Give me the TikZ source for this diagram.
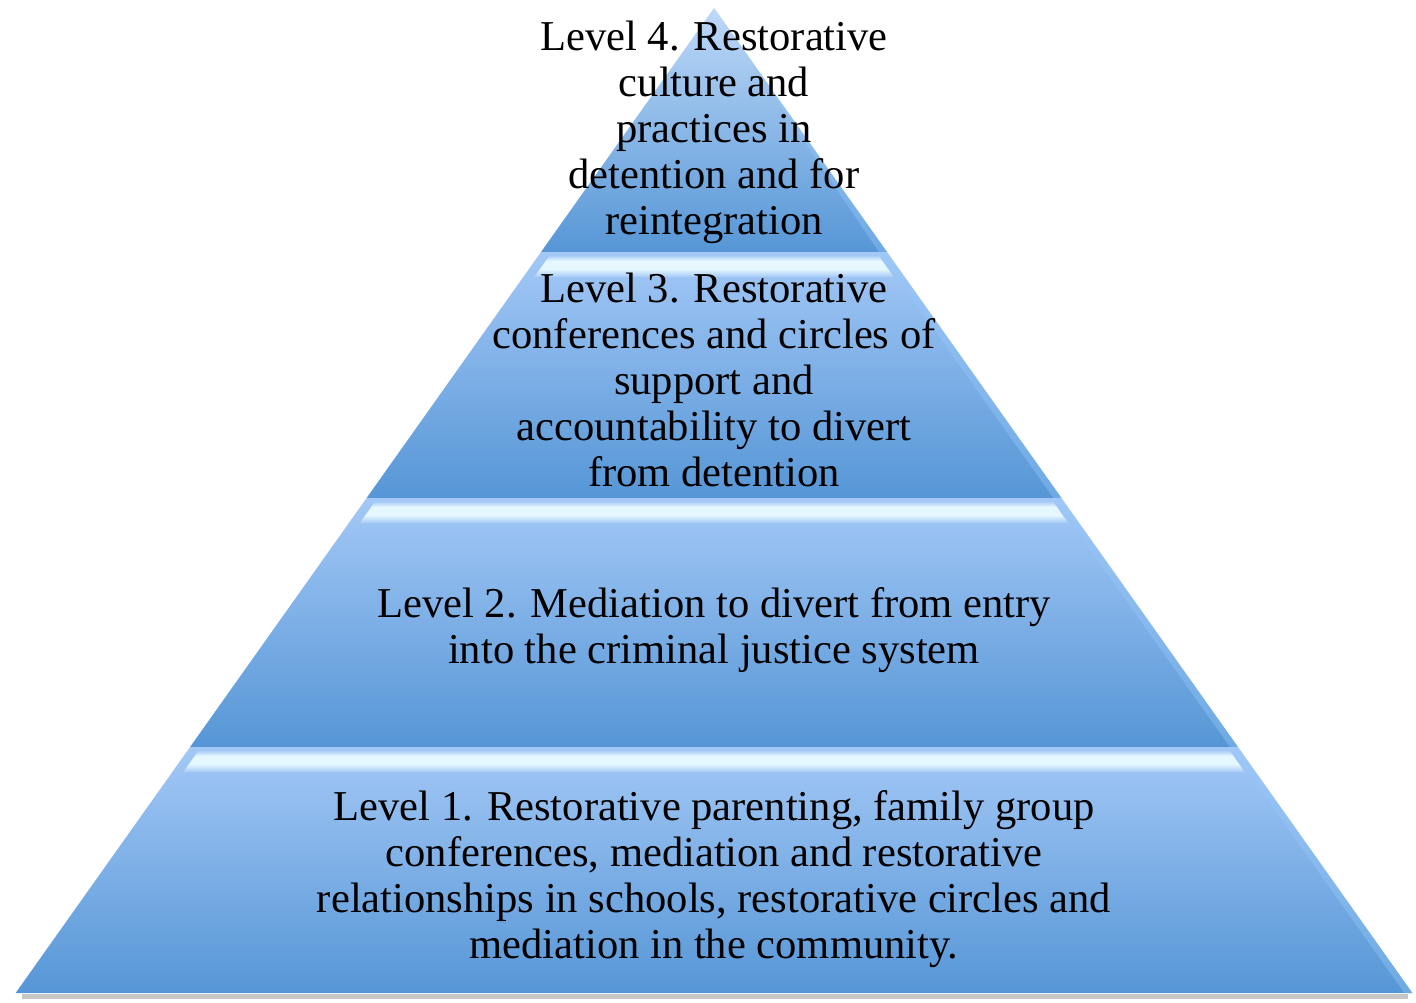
\documentclass[tikz,border=0pt]{standalone}
\usepackage{fontspec}
\setmainfont{Liberation Serif}
\definecolor{pyrLight}{RGB}{163,200,246}
\definecolor{pyrDark}{RGB}{86,150,214}
\definecolor{pyrGlow}{RGB}{230,248,255}
\definecolor{pyrEdge}{RGB}{150,200,250}

% x position of the left / right side of the pyramid at height #1
\newcommand\pyrL[1]{714-0.709*(#1-8)}
\newcommand\pyrR[1]{714+0.709*(#1-8)}
% trapezoid strip between heights #1 and #2, inset #3 from the sides
\newcommand\pyrstrip[3]{({\pyrL{#1}+#3},#1) -- ({\pyrR{#1}-#3},#1) -- ({\pyrR{#2}-#3},#2) -- ({\pyrL{#2}+#3},#2) -- cycle}

% one band of the pyramid: #1 top, #2 bottom
\newcommand\pyrband[2]{%
  \shade[top color=pyrLight, bottom color=pyrDark] \pyrstrip{#1}{#2}{0};
  \fill[pyrEdge, opacity=0.4]
    ({\pyrR{#1}-8},#1) -- ({\pyrR{#1}},#1) -- ({\pyrR{#2}},#2) -- ({\pyrR{#2}-8},#2) -- cycle;
}
% bright bevel along the top of a band
\newcommand\pyrbevel[1]{%
  \shade[top color=pyrLight, bottom color=pyrGlow] \pyrstrip{#1+3}{#1+9}{11};
  \fill[pyrGlow] \pyrstrip{#1+8.5}{#1+17.5}{11};
  \shade[top color=pyrGlow, bottom color=pyrLight] \pyrstrip{#1+17}{#1+25}{11};
}

\begin{document}
\begin{tikzpicture}[x=0.01cm,y=-0.01cm,
  leveltext/.style={align=center, font=\fontsize{12.1}{13.1}\selectfont, text=black, inner sep=0pt}]
\useasboundingbox (0,0) rectangle (1416,1002);
\fill[white] (0,0) rectangle (1416,1002);

% soft shadow under the base
\draw[gray!45, line width=1.2pt] (22,996.5) -- (1408,996.5);

% the four bands, top to bottom
\shade[top color=pyrLight!70!white, bottom color=pyrDark]
  (714,8) -- ({\pyrR{252}},252) -- ({\pyrL{252}},252) -- cycle;
\fill[pyrEdge, opacity=0.4] (714,8) -- ({\pyrR{252}},252) -- ({\pyrR{252}-8},252) -- cycle;
\pyrband{252}{498}
\pyrband{498}{747}
\pyrband{747}{993}
\pyrbevel{252}
\pyrbevel{498}
\pyrbevel{747}

% level texts
\node[leveltext] (l4) at (714,132) {Level 4. Restorative\\culture and\\practices in\\detention and for\\reintegration};
\node[leveltext] (l3) at (714,380) {Level 3. Restorative\\conferences and circles of\\support and\\accountability to divert\\from detention};
\node[leveltext] (l2) at (714,630) {Level 2. Mediation to divert from entry\\into the criminal justice system};
\node[leveltext] (l1) at (714,879) {Level 1. Restorative parenting, family group\\conferences, mediation and restorative\\relationships in schools, restorative circles and\\mediation in the community.};
\end{tikzpicture}
\end{document}
